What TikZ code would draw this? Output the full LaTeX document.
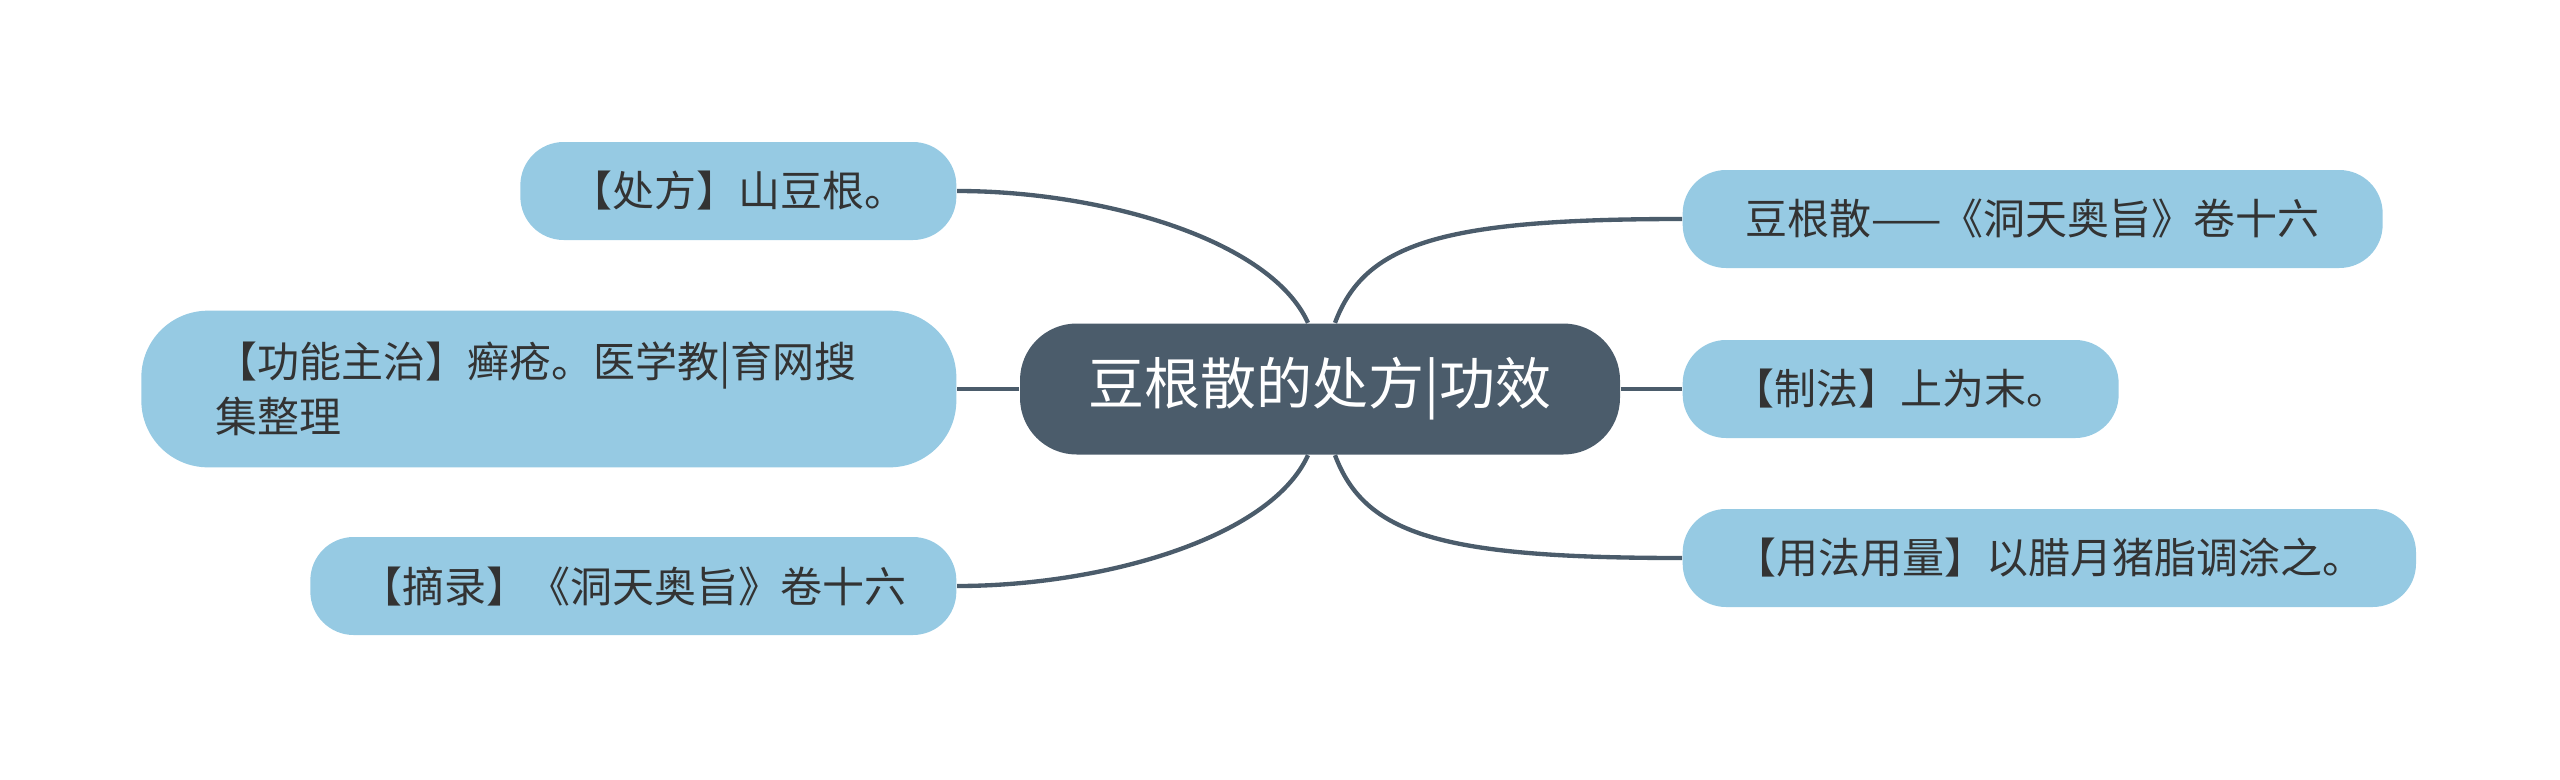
\documentclass[tikz,border=0pt]{standalone}
\usepackage{fontspec}
\setmainfont{Noto Sans CJK SC}
\definecolor{slate}{HTML}{4B5C6B}
\definecolor{leafblue}{HTML}{96CAE3}
\definecolor{inkgray}{HTML}{333333}
\begin{document}
\begin{tikzpicture}[x=0.3pt,y=-0.3pt,
  leaf/.style={fill=leafblue,text=inkgray,font=\fontsize{12.6}{16.5}\selectfont,rounded corners=13pt,minimum height=29.4pt,inner xsep=15pt,inner ysep=0pt},
  root/.style={fill=slate,text=white,font=\fontsize{16.8}{20}\selectfont,rounded corners=17pt,minimum height=39.3pt,minimum width=180pt},
  link/.style={draw=slate,line width=1.3pt}]
\useasboundingbox (0,0) rectangle (2560,779);
% root
\node[root] (c) at (1320,389){豆根散的处方|功效};
% right side
\node[leaf,anchor=west,minimum width=210pt] (r1) at (1682,219){豆根散——《洞天奥旨》卷十六};
\node[leaf,anchor=west] (r2) at (1682,389){【制法】上为末。};
\node[leaf,anchor=west,minimum width=220pt] (r3) at (1682,558){【用法用量】以腊月猪脂调涂之。};
% left side
\node[leaf,anchor=east] (l1) at (957,191){【处方】山豆根。};
\node[leaf,anchor=east,align=left,text width=200pt,minimum width=244.5pt,minimum height=47pt,rounded corners=20pt,inner xsep=0pt] (l2) at (957,389){【功能主治】癣疮。医学教|育网搜\\集整理};
\node[leaf,anchor=east] (l3) at (957,586){【摘录】《洞天奥旨》卷十六};
% connectors
\draw[link] ([xshift=4.5pt]c.north) .. controls +(30,-80) and +(-240,0) .. (r1.west);
\draw[link] (c.east) -- (r2.west);
\draw[link] ([xshift=4.5pt]c.south) .. controls +(30,80) and +(-240,0) .. (r3.west);
\draw[link] ([xshift=-3.6pt]c.north) .. controls +(-38,-84) and +(143,0) .. (l1.east);
\draw[link] (c.west) -- (l2.east);
\draw[link] ([xshift=-3.6pt]c.south) .. controls +(-38,84) and +(143,0) .. (l3.east);
\end{tikzpicture}
\end{document}
